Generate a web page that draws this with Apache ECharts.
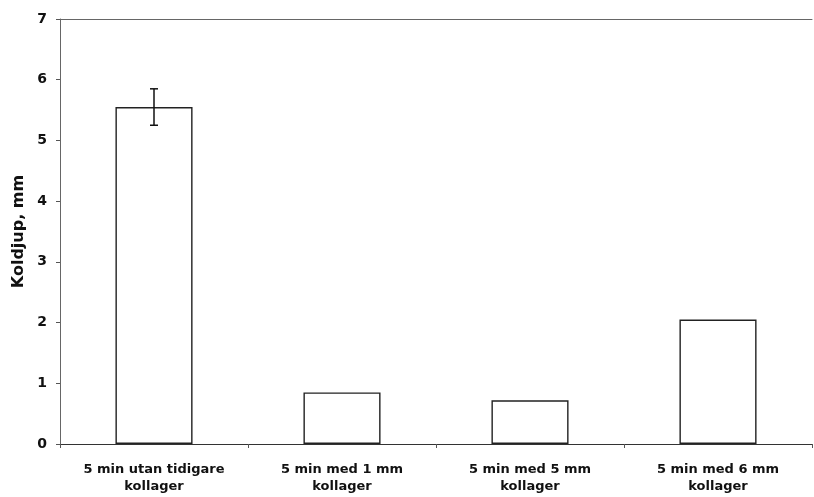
<!DOCTYPE html>
<html>
<head>
<meta charset="utf-8">
<script src="https://cdn.jsdelivr.net/npm/echarts@6/dist/echarts.min.js"></script>
<style>
  html, body { margin: 0; padding: 0; background: #fff; }
  #chart { width: 814px; height: 497px; }
</style>
</head>
<body>
<div id="chart"></div>
<script>
// Groups, mean depth (mm) and the spread shown by the whisker
const categories = [
  '5 min utan tidigare\nkollager',
  '5 min med 1 mm\nkollager',
  '5 min med 5 mm\nkollager',
  '5 min med 6 mm\nkollager'
];
const depthMm = [5.55, 0.85, 0.72, 2.05];
const errorMm = [0.30, null, null, null];
const yTicks = [0, 1, 2, 3, 4, 5, 6, 7];

const chart = echarts.init(document.getElementById('chart'));
const font = 'DejaVu Sans, Verdana, sans-serif';

const errorData = depthMm.map((v, i) => [i, v, errorMm[i]]).filter(d => d[2] != null);

chart.setOption({
  animation: false,
  backgroundColor: '#fff',
  grid: { left: 60, right: 2, top: 19, bottom: 53, outerBoundsMode: 'none', containLabel: false },
  xAxis: [{
    type: 'category',
    data: categories,
    axisLine: { lineStyle: { color: '#333', width: 1 } },
    axisTick: { show: true, length: 4, alignWithLabel: false, lineStyle: { color: '#555' } },
    axisLabel: {
      color: '#111', fontFamily: font, fontWeight: 'bold', fontSize: 13,
      lineHeight: 17, margin: 17, interval: 0
    }
  }, {
    type: 'category',
    position: 'top',
    data: categories,
    axisLine: { lineStyle: { color: '#666', width: 1 } },
    axisTick: { show: false },
    axisLabel: { show: false }
  }],
  yAxis: {
    type: 'value',
    min: yTicks[0],
    max: yTicks[yTicks.length - 1],
    interval: 1,
    name: 'Koldjup, mm',
    nameLocation: 'middle',
    nameGap: 33,
    nameRotate: 90,
    nameTextStyle: { color: '#111', fontFamily: font, fontWeight: 'bold', fontSize: 16 },
    axisLine: { show: true, lineStyle: { color: '#666', width: 1 } },
    axisTick: { show: true, length: 4, lineStyle: { color: '#555' } },
    axisLabel: { color: '#111', fontFamily: font, fontWeight: 'bold', fontSize: 14, margin: 13 },
    splitLine: { show: false }
  },
  series: [{
    type: 'bar',
    data: depthMm,
    barWidth: '41%',
    itemStyle: { color: '#fff', borderColor: '#222', borderWidth: 1.4 }
  }, {
    type: 'custom',
    data: errorData,
    z: 5,
    renderItem: function (params, api) {
      const i = api.value(0), v = api.value(1), e = api.value(2);
      const hi = api.coord([i, v + e]);
      const lo = api.coord([i, v - e]);
      const half = 4;
      const style = { stroke: '#111', lineWidth: 1.5 };
      return {
        type: 'group',
        children: [
          { type: 'line', shape: { x1: hi[0], y1: hi[1], x2: lo[0], y2: lo[1] }, style },
          { type: 'line', shape: { x1: hi[0] - half, y1: hi[1], x2: hi[0] + half, y2: hi[1] }, style },
          { type: 'line', shape: { x1: lo[0] - half, y1: lo[1], x2: lo[0] + half, y2: lo[1] }, style }
        ]
      };
    }
  }]
});
</script>
</body>
</html>
